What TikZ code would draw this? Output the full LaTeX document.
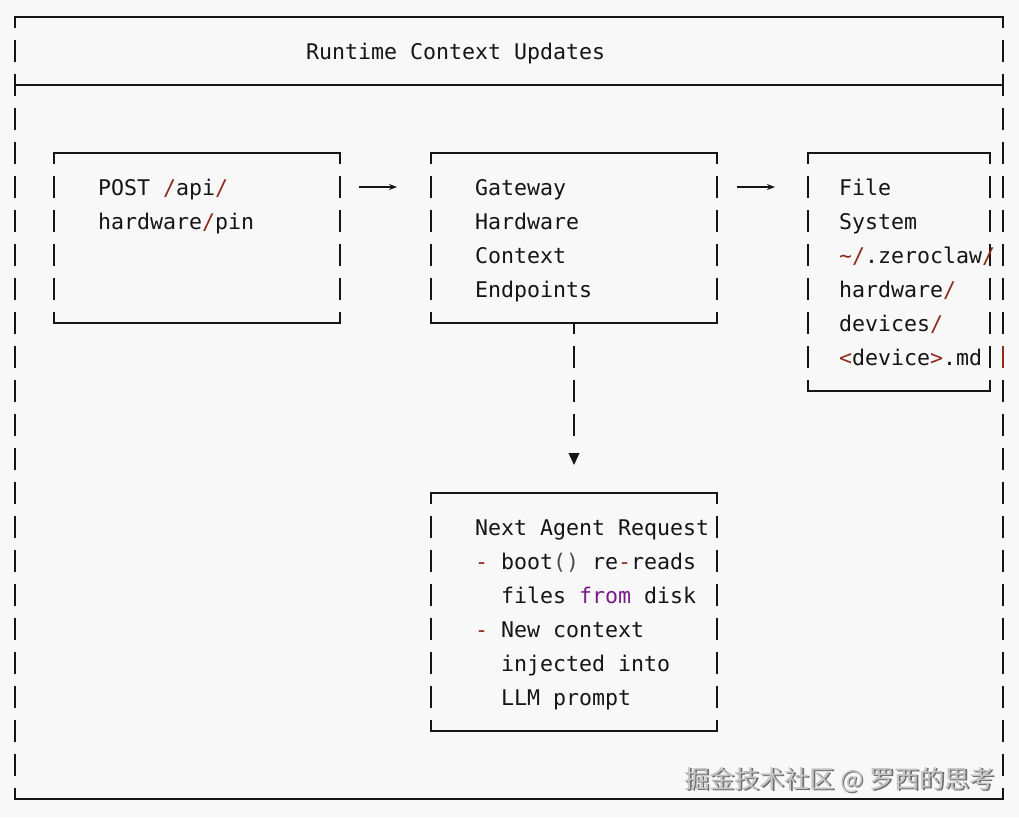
\documentclass[tikz,border=0pt]{standalone}
\usepackage{fontspec}
\setmonofont{DejaVu Sans Mono}
\newfontfamily\cjk{Noto Sans CJK SC}
\usetikzlibrary{arrows.meta}
\definecolor{bg}{HTML}{F8F8F8}
\definecolor{ink}{HTML}{151515}
\definecolor{codered}{HTML}{8F2A1C}
\definecolor{codepurple}{HTML}{7A1A8C}
\definecolor{codegrey}{HTML}{4A4A55}
\definecolor{wmdark}{HTML}{6E6E6E}
\definecolor{wmlight}{HTML}{C4C4C4}
\newcommand\rd[1]{\textcolor{codered}{#1}}
\newcommand\pu[1]{\textcolor{codepurple}{#1}}
\newcommand\gy[1]{\textcolor{codegrey}{#1}}
\begin{document}
\begin{tikzpicture}[x=1pt,y=-1pt,
  boxarea/.style={draw=none, rectangle, inner sep=0pt, outer sep=0pt},
  hl/.style={draw=ink, line width=2pt, line cap=rect},
  vl/.style={draw=ink, line width=1.3pt, dash pattern=on 22pt off 12pt, dash phase=11pt},
  vlplain/.style={draw=ink, line width=1.3pt, dash pattern=on 22pt off 12pt, dash phase=0pt},
  txt/.style={anchor=north west, inner sep=0pt, outer sep=0pt, align=left, text=ink,
              font=\ttfamily\fontsize{21.6}{34}\selectfont},
  arr/.style={draw=ink, line width=1.5pt, -{Stealth[length=8pt,width=6pt]}},
  wm/.style={anchor=east, inner sep=0pt, font=\cjk\fontsize{25}{25}\selectfont},
]
\fill[bg] (0,0) rectangle (1019,817);
\useasboundingbox (0,0) rectangle (1019,817);

% ---------- frames (areas) ----------
\node[boxarea, minimum width=988pt, minimum height=782pt] (outer) at (509,408) {};
\node[boxarea, minimum width=286pt, minimum height=170pt] (post) at (197,238) {};
\node[boxarea, minimum width=286pt, minimum height=170pt] (gw) at (574,238) {};
\node[boxarea, minimum width=182pt, minimum height=238pt] (fs) at (899,272) {};
\node[boxarea, minimum width=286pt, minimum height=238pt] (next) at (574,612) {};

% row helpers
\coordinate (rowsep) at (0,85);
\coordinate (row5) at (0,187);
\coordinate (fsA) at (0,266);
\coordinate (fsB) at (0,278);
\coordinate (redA) at (0,346);
\coordinate (redB) at (0,368);

% outer frame with title separator
\draw[hl] (outer.north west) -- (outer.north east);
\draw[hl] (outer.south west) -- (outer.south east);
\draw[hl] (outer.west |- rowsep) -- (outer.east |- rowsep);
\draw[vl] (outer.north west) -- (outer.south west);
\draw[vl] (outer.north east) -- (outer.south east);
\draw[codered, line width=1.3pt] (outer.east |- redA) -- (outer.east |- redB);

% simple boxes
\foreach \b in {post,gw,next}{
  \draw[hl] (\b.north west) -- (\b.north east);
  \draw[hl] (\b.south west) -- (\b.south east);
  \draw[vl] (\b.north west) -- (\b.south west);
  \draw[vl] (\b.north east) -- (\b.south east);
}
% file system box (right side broken by overflowing text)
\draw[hl] (fs.north west) -- (fs.north east);
\draw[hl] (fs.south west) -- (fs.south east);
\draw[vl] (fs.north west) -- (fs.south west);
\draw[vl] (fs.north east) -- (fs.east |- fsA);
\draw[vlplain] (fs.east |- fsB) -- (fs.south east);

% ---------- texts ----------
\node[txt] (title) at (306,36) {\strut Runtime Context Updates};
\node[txt] (posttxt) at (98,172) {\strut POST \rd{/}api\rd{/}\\\strut hardware\rd{/}pin};
\node[txt] (gwtxt) at (475,172) {\strut Gateway\\\strut Hardware\\\strut Context\\\strut Endpoints};
\node[txt] (fstxt) at (839,172) {\strut File\\\strut System\\\strut \rd{\textasciitilde/}.zeroclaw\rd{/}\\\strut hardware\rd{/}\\\strut devices\rd{/}\\\strut \rd{<}device\rd{>}.md};
\node[txt] (nexttxt) at (475,512) {\strut Next Agent Request\\
\strut \rd{-} boot\gy{()} re\rd{-}reads\\
\strut \hspace*{26pt}files \pu{from} disk\\
\strut \rd{-} New context\\
\strut \hspace*{26pt}injected into\\
\strut \hspace*{26pt}LLM prompt};

% ---------- connectors ----------
\draw[arr, shorten <=19pt, shorten >=34pt] (post.east |- row5) -- (gw.west |- row5);
\draw[arr, shorten <=20pt, shorten >=33pt] (gw.east |- row5) -- (fs.west |- row5);

\coordinate (tri) at (574,459);
\draw[vl] (gw.south) -- ([shift={(0,-23)}]tri);
\fill[ink] ([shift={(-5.5,-6)}]tri) -- ([shift={(5.5,-6)}]tri) -- ([shift={(0,6)}]tri) -- cycle;

% ---------- watermark ----------
\node[wm, text=wmdark] (wmshadow) at (996.2,781.2) {掘金技术社区 @ 罗西的思考};
\node[wm, text=wmlight] (wmtext) at (995,780) {掘金技术社区 @ 罗西的思考};
\end{tikzpicture}
\end{document}
